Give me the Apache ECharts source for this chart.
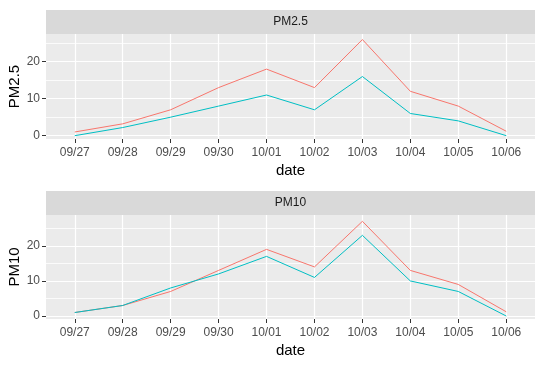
<!DOCTYPE html>
<html>
<head>
<meta charset="utf-8">
<script src="https://cdn.jsdelivr.net/npm/echarts@6/dist/echarts.min.js"></script>
<style>
  html, body { margin: 0; padding: 0; background: #fff; }
  #chart { width: 543px; height: 369px; }
</style>
</head>
<body>
<div id="chart"></div>
<script>
// categories
const dates = ["09/27", "09/28", "09/29", "09/30", "10/01", "10/02", "10/03", "10/04", "10/05", "10/06"];

// PM2.5 panel
const pm25Red = [1, 3.2, 7, 13, 18, 13, 26, 12, 8, 1.2];
const pm25Cyan = [0, 2.2, 5, 8, 11, 7, 16, 6, 4, 0];

// PM10 panel
const pm10Red = [1, 3, 7, 13, 19, 14, 27, 13, 9, 1.2];
const pm10Cyan = [1, 3, 8, 12, 17, 11, 23, 10, 7, 0];

// tick values
const xTicks = [0, 1, 2, 3, 4, 5, 6, 7, 8, 9];
const yMajor = [0, 10, 20];
const yMinor = [5, 15, 25];

const font = "'Liberation Sans', Arial, sans-serif";
const red = "#F8766D";
const cyan = "#00BFC4";

const chart = echarts.init(document.getElementById("chart"));

// builds x axis for one panel
function xAxisFor(gridIndex) {
    return {
        type: "value",
        gridIndex: gridIndex,
        min: -0.6,
        max: 9.6,
        axisLine: { show: false, onZero: false },
        axisTick: { show: true, length: 4, customValues: xTicks, lineStyle: { color: "#333", width: 1 } },
        axisLabel: {
            customValues: xTicks,
            formatter: (v) => dates[Math.round(v)],
            color: "#4D4D4D",
            fontSize: 12,
            fontFamily: font,
            margin: 8,
        },
        splitLine: { show: true, lineStyle: { color: "#fff", width: 1.2 } },
        name: "date",
        nameLocation: "middle",
        nameGap: 24,
        nameTextStyle: { color: "#000", fontSize: 15, fontFamily: font },
    };
}

function yAxesFor(gridIndex, min, max, title) {
    return [
        {
            type: "value",
            gridIndex: gridIndex,
            position: "left",
            min: min,
            max: max,
            axisLine: { show: false, onZero: false },
            axisTick: { show: true, length: 4, customValues: yMajor, lineStyle: { color: "#333", width: 1 } },
            axisLabel: {
                customValues: yMajor,
                color: "#4D4D4D",
                fontSize: 12,
                fontFamily: font,
                margin: 6,
            },
            splitLine: { show: true, lineStyle: { color: "#fff", width: 1.2 } },
            name: title,
            nameLocation: "middle",
            nameGap: 24,
            nameMoveOverlap: false,
            nameTextStyle: { color: "#000", fontSize: 15, fontFamily: font },
        },
        {
            type: "value",
            gridIndex: gridIndex,
            position: "right",
            min: min,
            max: max,
            axisLine: { show: false, onZero: false },
            axisTick: { show: false, customValues: yMinor },
            axisLabel: { show: false, customValues: yMinor },
            splitLine: { show: true, lineStyle: { color: "#fff", width: 0.8 } },
        },
    ];
}

function lineSeries(name, data, color, xi, yi) {
    return {
        name: name,
        type: "line",
        xAxisIndex: xi,
        yAxisIndex: yi,
        data: data.map((v, i) => [i, v]),
        showSymbol: false,
        symbol: "none",
        lineStyle: { color: color, width: 1 },
        itemStyle: { color: color },
        silent: true,
        animation: false,
    };
}

const option = {
    animation: false,
    backgroundColor: "#fff",
    grid: [
        { left: 46, top: 34, width: 489, height: 105, show: true, backgroundColor: "#EBEBEB", borderWidth: 0, containLabel: false, outerBoundsMode: "none" },
        { left: 46, top: 215, width: 489, height: 104, show: true, backgroundColor: "#EBEBEB", borderWidth: 0, containLabel: false, outerBoundsMode: "none" },
    ],
    xAxis: [xAxisFor(0), xAxisFor(1)],
    yAxis: [
        ...yAxesFor(0, -0.9, 27.5, "PM2.5"),
        ...yAxesFor(1, -0.85, 28.8, "PM10"),
    ],
    graphic: [
        { type: "rect", shape: { x: 46, y: 10, width: 489, height: 24 }, style: { fill: "#D9D9D9" }, silent: true },
        { type: "rect", shape: { x: 46, y: 191, width: 489, height: 24 }, style: { fill: "#D9D9D9" }, silent: true },
        {
            type: "text", x: 290.5, y: 22,
            style: { text: "PM2.5", fill: "#1A1A1A", font: "12px " + font, textAlign: "center", textVerticalAlign: "middle" },
        },
        {
            type: "text", x: 290.5, y: 203,
            style: { text: "PM10", fill: "#1A1A1A", font: "12px " + font, textAlign: "center", textVerticalAlign: "middle" },
        },
    ],
    series: [
        lineSeries("red", pm25Red, red, 0, 0),
        lineSeries("cyan", pm25Cyan, cyan, 0, 0),
        lineSeries("red", pm10Red, red, 1, 2),
        lineSeries("cyan", pm10Cyan, cyan, 1, 2),
    ],
};

chart.setOption(option);
</script>
</body>
</html>
